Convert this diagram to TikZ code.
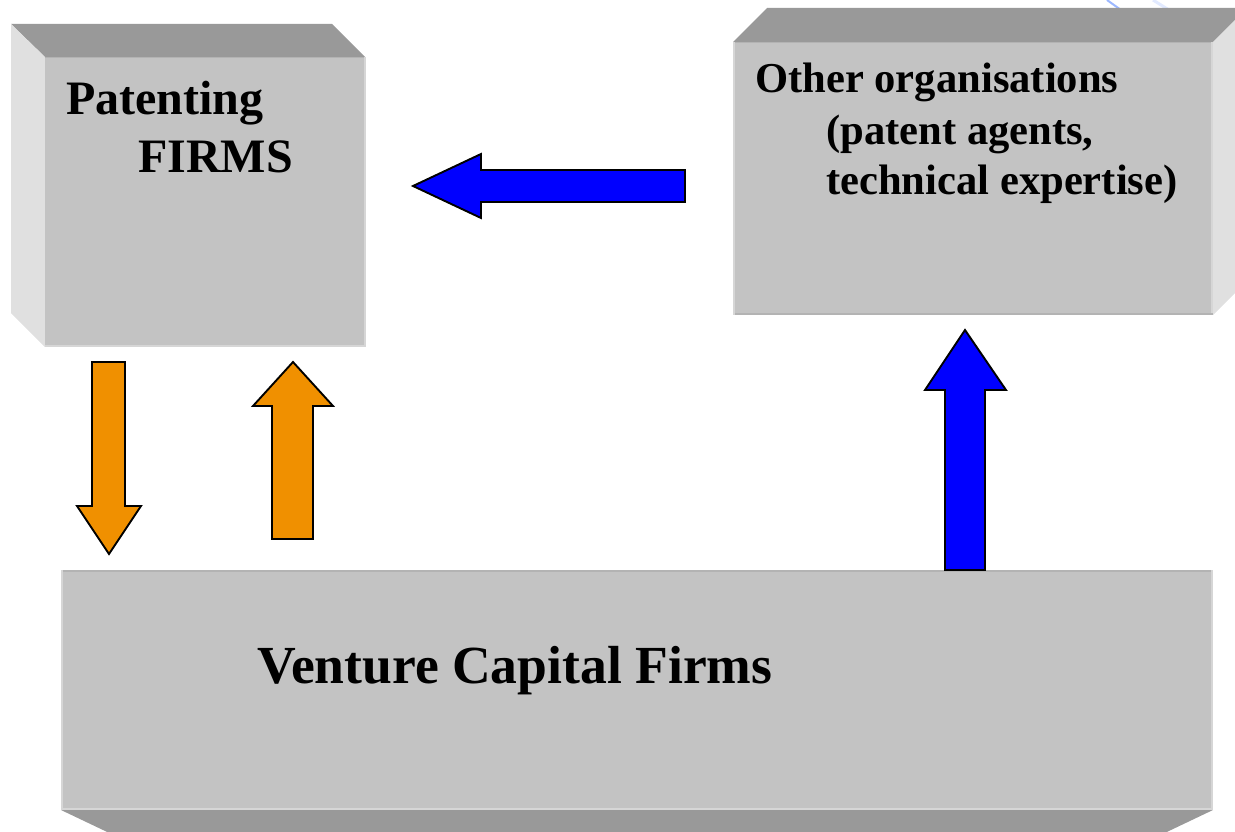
\documentclass[tikz,border=0pt]{standalone}
\usepackage{fontspec}
\setmainfont{Liberation Serif}
\definecolor{frontf}{HTML}{C3C3C3}
\definecolor{topf}{HTML}{999999}
\definecolor{sidef}{HTML}{E0E0E0}
\definecolor{edgedark}{HTML}{B3B3B3}
\definecolor{edgelight}{HTML}{D6D6D6}
\definecolor{orangeA}{HTML}{F09000}
\definecolor{blueA}{HTML}{0000FF}
\definecolor{faintblue}{HTML}{9DB8FF}
\definecolor{fainterblue}{HTML}{E2EAFF}
\begin{document}
\begin{tikzpicture}[x=1pt,y=-1pt,
  txt/.style={inner sep=0pt, anchor=base west, font=\bfseries},
  blockarrow/.style={draw=black, line width=1.9pt, line join=miter},
  topface/.style={fill=topf},
  sideface/.style={fill=sidef},
  frontface/.style={fill=frontf}]
\useasboundingbox (0,0) rectangle (1235,832);
\clip (0,0) rectangle (1235,832);

% faint stray lines at top right
\draw[faintblue, line width=2pt] (1107,0) -- (1121,10);
\draw[fainterblue, line width=3pt] (1153,0) -- (1169,10);

% Box 1: Patenting FIRMS
\path[topface] (11,24) -- (332,24) -- (365,57) -- (45,57) -- cycle;
\path[sideface] (11,24) -- (45,57) -- (45,347) -- (11,313) -- cycle;
\path[frontface] (45,57) rectangle (366,347);
\draw[edgedark, line width=1.5pt] (45,57.5) -- (366,57.5);
\draw[edgelight, line width=2pt] (365,57) -- (365,347);
\draw[edgelight, line width=2pt] (45,346) -- (366,346);

% Box 2: Other organisations
\path[topface] (767,8) -- (1247,8) -- (1213,42) -- (733,42) -- cycle;
\path[sideface] (1213,42) -- (1247,8) -- (1247,281) -- (1213,315) -- cycle;
\path[frontface] (733,42) rectangle (1213,315);
\draw[edgedark, line width=1.5pt] (733,42.5) -- (1213,42.5);
\draw[edgelight, line width=2pt] (1212,42) -- (1212,315);
\draw[edgedark, line width=1.5pt] (733,314) -- (1213,314);
\draw[edgelight, line width=1.5pt] (734,42) -- (734,315);

% Box 3: Venture Capital Firms
\path[topface] (61,810) -- (1213,810) -- (1150,840) -- (124,840) -- cycle;
\path[frontface] (61,570) rectangle (1213,810);
\draw[edgedark, line width=2pt] (61,571) -- (1213,571);
\draw[edgelight, line width=2pt] (62,570) -- (62,810);
\draw[edgelight, line width=2pt] (1212,570) -- (1212,810);
\draw[edgelight, line width=2pt] (61,809) -- (1213,809);

% Texts
\node[txt, font=\bfseries\fontsize{48}{58}\selectfont] (pat) at (66,115) {Patenting};
\node[txt, font=\bfseries\fontsize{48}{58}\selectfont] (firms) at (138,173) {FIRMS};
\node[txt, font=\bfseries\fontsize{42.6}{50}\selectfont] (oth1) at (755,93) {Other organisations};
\node[txt, font=\bfseries\fontsize{42.6}{50}\selectfont] (oth2) at (826,145) {(patent agents,};
\node[txt, font=\bfseries\fontsize{42.6}{50}\selectfont] (oth3) at (826,195) {technical expertise)};
\node[txt, font=\bfseries\fontsize{53.6}{60}\selectfont] (vc) at (257,683) {Venture Capital Firms};

% Block arrows
\path[blockarrow, fill=orangeA] (92,362) -- (125,362) -- (125,506) -- (141,506) -- (109,554) -- (77,506) -- (92,506) -- cycle;
\path[blockarrow, fill=orangeA] (293,362) -- (333,406) -- (313,406) -- (313,539) -- (272,539) -- (272,406) -- (253,406) -- cycle;
\path[blockarrow, fill=blueA] (413,186) -- (481,154) -- (481,170) -- (685,170) -- (685,202) -- (481,202) -- (481,218) -- cycle;
\path[blockarrow, fill=blueA] (965,330) -- (1006,390) -- (985,390) -- (985,570) -- (945,570) -- (945,390) -- (925,390) -- cycle;
\end{tikzpicture}
\end{document}
